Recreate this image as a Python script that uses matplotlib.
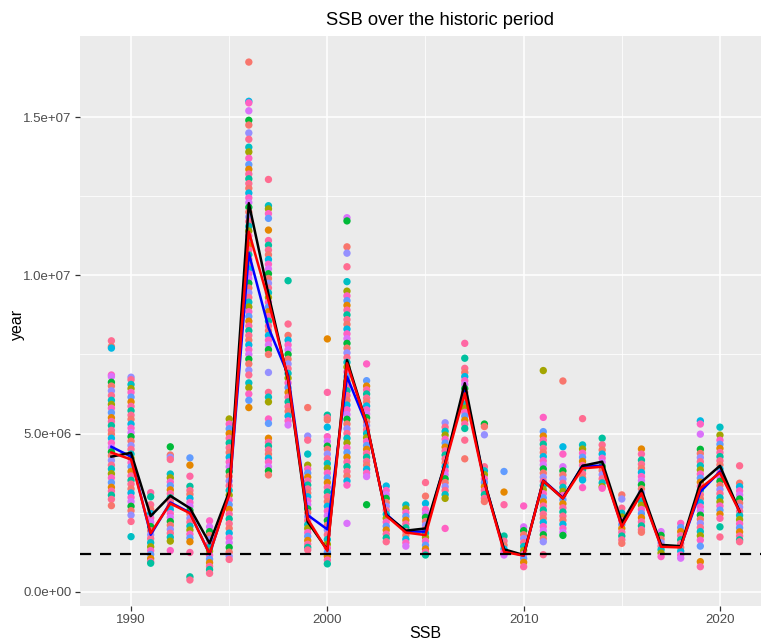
import numpy as np
import matplotlib.pyplot as plt
from matplotlib.ticker import FixedLocator, FixedFormatter

plt.rcParams['font.family'] = ['Liberation Sans', 'DejaVu Sans']

years = list(range(1989, 2022))

# SSB per iteration for each year (millions)
ssb_1989 = [7.93, 7.75, 7.7, 6.85, 6.8, 6.62, 6.5, 6.35, 6.2, 6.05, 5.92, 5.8, 5.66, 5.5, 5.38, 5.25, 5.1, 4.98,
            4.85, 4.7, 4.56, 4.42, 4.3, 4.15, 4.0, 3.88, 3.73, 3.6, 3.45, 3.3, 3.18, 3.05, 2.92, 2.72]
ssb_1990 = [6.78, 6.7, 6.55, 6.42, 6.3, 6.15, 6.0, 5.86, 5.72, 5.58, 5.45, 5.3, 5.17, 5.03, 4.9, 4.76, 4.62, 4.5,
            4.35, 4.22, 4.08, 3.95, 3.8, 3.66, 3.52, 3.4, 3.25, 3.12, 2.98, 2.85, 2.7, 2.56, 2.42, 2.22, 1.74]
ssb_1991 = [3.13, 3.0, 2.75, 2.6, 2.47, 2.33, 2.2, 2.06, 1.93, 1.8, 1.68, 1.55, 1.42, 1.3, 1.18, 1.05, 0.95, 0.9]
ssb_1992 = [4.58, 4.32, 4.25, 4.18, 3.72, 3.6, 3.47, 3.35, 3.22, 3.1, 2.97, 2.85, 2.72, 2.6, 2.47, 2.35, 2.22,
            2.1, 1.97, 1.85, 1.72, 1.6, 1.3]
ssb_1993 = [4.23, 4.0, 3.65, 3.33, 3.2, 3.08, 2.95, 2.82, 2.7, 2.57, 2.45, 2.32, 2.2, 2.07, 1.95, 1.82, 1.7,
            1.58, 1.24, 0.47, 0.37]
ssb_1994 = [2.24, 2.05, 1.9, 1.78, 1.65, 1.52, 1.4, 1.28, 1.15, 1.03, 0.92, 0.8, 0.7, 0.58]
ssb_1995 = [5.46, 5.3, 5.15, 5.0, 4.85, 4.7, 4.55, 4.4, 4.25, 4.1, 3.95, 3.8, 3.65, 3.5, 3.35, 3.2, 3.05, 2.9,
            2.75, 2.6, 2.45, 2.3, 2.15, 2.0, 1.85, 1.7, 1.55, 1.4, 1.25, 1.12, 1.02]
ssb_1996 = [16.74, 15.5, 15.45, 15.2, 14.9, 14.75, 14.5, 14.3, 14.05, 13.9, 13.7, 13.5, 13.35, 13.2, 13.05, 12.9,
            12.75, 12.6, 12.45, 12.3, 12.15, 12.0, 11.85, 11.7, 11.55, 11.4, 11.25, 11.1, 10.95, 10.8, 10.65,
            10.5, 10.35, 10.2, 10.05, 9.9, 9.75, 9.6, 9.45, 9.3, 9.15, 9.0, 8.85, 8.7, 8.55, 8.4, 8.25, 8.1,
            7.95, 7.8, 7.65, 7.5, 7.35, 7.2, 7.0, 6.85, 6.6, 6.45, 6.25, 6.05, 5.82]
ssb_1997 = [13.03, 12.2, 12.1, 11.95, 11.8, 11.43, 11.1, 10.95, 10.8, 10.65, 10.5, 10.35, 10.2, 10.05, 9.9,
            9.75, 9.6, 9.45, 9.3, 9.15, 9.0, 8.85, 8.7, 8.55, 8.4, 8.25, 8.1, 7.95, 7.8, 7.65, 7.5, 6.93, 6.3,
            6.15, 6.0, 5.46, 5.32, 4.85, 4.72, 4.6, 4.48, 4.35, 4.22, 4.1, 3.95, 3.82, 3.69]
ssb_1998 = [9.83, 8.46, 8.1, 7.95, 7.8, 7.65, 7.5, 7.35, 7.2, 7.05, 6.9, 6.75, 6.6, 6.45, 6.3, 6.15, 6.0, 5.85,
            5.7, 5.55, 5.4, 5.27]
ssb_1999 = [5.82, 4.92, 4.79, 4.35, 4.0, 3.88, 3.75, 3.62, 3.5, 3.37, 3.25, 3.12, 3.0, 2.87, 2.75, 2.62, 2.5,
            2.37, 2.25, 2.12, 2.0, 1.87, 1.75, 1.62, 1.5, 1.4, 1.32]
ssb_2000 = [7.99, 6.3, 5.58, 5.5, 5.43, 5.2, 4.9, 4.75, 4.6, 4.5, 4.35, 4.2, 4.05, 3.9, 3.75, 3.6, 3.45, 3.3,
            3.15, 3.0, 2.85, 2.7, 2.55, 2.4, 2.25, 2.1, 1.95, 1.8, 1.65, 1.5, 1.38, 1.25, 1.12, 1.0, 0.88]
ssb_2001 = [11.82, 11.72, 10.9, 10.7, 10.27, 9.8, 9.5, 9.35, 9.2, 9.05, 8.9, 8.75, 8.6, 8.45, 8.3, 8.15, 8.0,
            7.85, 7.7, 7.55, 7.4, 7.25, 7.1, 6.95, 6.8, 6.65, 6.5, 6.35, 6.2, 6.05, 5.9, 5.75, 5.6, 5.45, 5.3,
            5.15, 5.0, 4.85, 4.7, 4.55, 4.4, 4.25, 4.1, 3.95, 3.8, 3.65, 3.5, 3.37, 2.16]
ssb_2002 = [7.2, 6.67, 6.5, 6.38, 6.25, 6.12, 6.0, 5.87, 5.75, 5.62, 5.5, 5.37, 5.25, 5.12, 5.0, 4.87, 4.75,
            4.62, 4.5, 4.37, 4.25, 4.12, 4.0, 3.87, 3.75, 3.64, 2.75]
ssb_2003 = [3.34, 3.2, 3.07, 2.95, 2.82, 2.7, 2.57, 2.45, 2.32, 2.2, 2.07, 1.95, 1.82, 1.7, 1.58]
ssb_2004 = [2.74, 2.62, 2.5, 2.38, 2.26, 2.14, 2.02, 1.9, 1.78, 1.66, 1.55, 1.44]
ssb_2005 = [3.45, 3.02, 2.79, 2.6, 2.47, 2.35, 2.22, 2.1, 1.97, 1.85, 1.72, 1.6, 1.47, 1.35, 1.25, 1.16]
ssb_2006 = [5.34, 5.2, 5.07, 4.95, 4.82, 4.7, 4.57, 4.45, 4.32, 4.2, 4.07, 3.95, 3.82, 3.7, 3.57, 3.45, 3.32,
            3.2, 3.07, 2.95, 2.0]
ssb_2007 = [7.85, 7.38, 7.06, 6.93, 6.8, 6.67, 6.55, 6.42, 6.3, 6.17, 6.05, 5.92, 5.8, 5.67, 5.55, 5.42, 5.3,
            5.16, 4.79, 4.2]
ssb_2008 = [5.3, 5.22, 4.96, 3.95, 3.82, 3.7, 3.57, 3.45, 3.32, 3.2, 3.07, 2.95, 2.85]
ssb_2009 = [3.8, 3.15, 2.75, 1.76, 1.6, 1.47, 1.35, 1.25, 1.16]
ssb_2010 = [2.71, 2.05, 1.93, 1.8, 1.68, 1.55, 1.43, 1.3, 1.18, 1.05, 0.93, 0.79]
ssb_2011 = [6.99, 5.51, 5.06, 4.92, 4.79, 4.66, 4.53, 4.4, 4.27, 4.14, 4.01, 3.88, 3.75, 3.62, 3.49, 3.36,
            3.23, 3.1, 2.97, 2.84, 2.71, 2.58, 2.45, 2.32, 2.19, 2.06, 1.93, 1.8, 1.68, 1.58, 1.17]
ssb_2012 = [6.66, 4.58, 4.35, 3.95, 3.82, 3.69, 3.56, 3.43, 3.3, 3.17, 3.04, 2.91, 2.78, 2.65, 2.52, 2.39,
            2.26, 2.13, 2.0, 1.88, 1.78]
ssb_2013 = [5.47, 4.64, 4.51, 4.38, 4.25, 4.12, 3.99, 3.86, 3.73, 3.6, 3.53, 3.29]
ssb_2014 = [4.85, 4.64, 4.48, 4.35, 4.22, 4.09, 3.96, 3.83, 3.7, 3.57, 3.44, 3.32, 3.27]
ssb_2015 = [3.06, 2.93, 2.64, 2.48, 2.36, 2.24, 2.12, 2.0, 1.88, 1.76, 1.64, 1.53]
ssb_2016 = [4.51, 4.35, 4.16, 4.03, 3.9, 3.77, 3.64, 3.51, 3.38, 3.25, 3.12, 2.99, 2.86, 2.73, 2.6, 2.47,
            2.34, 2.21, 2.08, 1.96, 1.88]
ssb_2017 = [1.9, 1.78, 1.66, 1.55, 1.44, 1.33, 1.22, 1.11]
ssb_2018 = [2.16, 2.03, 1.9, 1.77, 1.64, 1.52, 1.4, 1.28, 1.16, 1.06]
ssb_2019 = [5.4, 5.3, 4.98, 4.5, 4.37, 4.24, 4.11, 3.98, 3.85, 3.72, 3.59, 3.46, 3.33, 3.2, 3.07, 2.94, 2.81,
            2.68, 2.55, 2.42, 2.29, 2.16, 2.03, 1.9, 1.77, 1.63, 1.44, 0.95, 0.79]
ssb_2020 = [5.2, 4.95, 4.79, 4.66, 4.53, 4.4, 4.27, 4.14, 4.01, 3.88, 3.75, 3.62, 3.49, 3.36, 3.23, 3.1, 2.97,
            2.84, 2.71, 2.58, 2.45, 2.32, 2.05, 1.73]
ssb_2021 = [3.98, 3.43, 3.32, 3.19, 3.06, 2.93, 2.8, 2.67, 2.54, 2.41, 2.28, 2.15, 2.02, 1.89, 1.76, 1.64, 1.58]

ssb_by_year = [ssb_1989, ssb_1990, ssb_1991, ssb_1992, ssb_1993, ssb_1994, ssb_1995, ssb_1996, ssb_1997,
               ssb_1998, ssb_1999, ssb_2000, ssb_2001, ssb_2002, ssb_2003, ssb_2004, ssb_2005, ssb_2006,
               ssb_2007, ssb_2008, ssb_2009, ssb_2010, ssb_2011, ssb_2012, ssb_2013, ssb_2014, ssb_2015,
               ssb_2016, ssb_2017, ssb_2018, ssb_2019, ssb_2020, ssb_2021]

# summary lines (millions)
ssb_black = [4.27, 4.39, 2.39, 3.03, 2.64, 1.53, 3.16, 12.28, 9.4, 6.69, 2.21, 1.32, 7.32, 5.32, 2.42, 1.93,
             2.0, 4.06, 6.59, 3.48, 1.34, 1.16, 3.5, 2.95, 3.98, 4.11, 2.18, 3.24, 1.48, 1.44, 3.44, 3.98, 2.53]
ssb_red = [4.4, 4.18, 1.85, 2.79, 2.48, 1.19, 3.06, 11.38, 9.2, 6.74, 2.3, 1.29, 7.22, 5.32, 2.4, 1.87,
           1.79, 4.02, 6.27, 3.45, 1.26, 1.14, 3.5, 2.95, 3.9, 3.95, 2.05, 3.11, 1.42, 1.40, 3.27, 3.76, 2.53]
ssb_blue = [4.58, 4.27, 1.8, 2.82, 2.5, 1.19, 3.1, 10.7, 8.35, 6.85, 2.42, 1.97, 6.8, 5.28, 2.45, 1.9,
            1.9, 4.06, 6.43, 3.48, 1.3, 1.14, 3.52, 2.97, 3.98, 3.98, 2.08, 3.14, 1.44, 1.42, 3.16, 3.8, 2.55]
blim = 1.2  # reference level (millions)

y_ticks = [0, 5e6, 1e7, 1.5e7]
y_tick_labels = ['0.0e+00', '5.0e+06', '1.0e+07', '1.5e+07']
x_ticks = [1990, 2000, 2010, 2020]

iter_colors = ['#FF6C91', '#F8766D', '#00B9E3', '#FF61C3', '#DB72FB', '#00BA38', '#F8766D', '#9590FF',
               '#FF6C91', '#00BFC4', '#A3A500', '#FF61C3', '#619CFF', '#E58700', '#FF67A4', '#00C19F']

W, H = 761, 644
fig = plt.figure(figsize=(W / 100, H / 100), dpi=100)
ax = fig.add_axes([80 / W, (H - 605.7) / H, (771 - 80) / W, (605.7 - 36) / H])
ax.set_facecolor('#EBEBEB')
for s in ax.spines.values():
    s.set_visible(False)

# iteration points
px, py, pc = [], [], []
for i, (yr, vals) in enumerate(zip(years, ssb_by_year)):
    for k, v in enumerate(vals):
        px.append(yr)
        py.append(v * 1e6)
        pc.append(iter_colors[(k + 7 * i) % len(iter_colors)])
ax.scatter(px, py, s=28, c=pc, linewidths=0, zorder=2)

yrs = np.array(years)
ax.plot(yrs, np.array(ssb_blue) * 1e6, color='#0000FF', lw=1.8, zorder=3)
ax.plot(yrs, np.array(ssb_black) * 1e6, color='black', lw=1.8, zorder=4)
ax.plot(yrs, np.array(ssb_red) * 1e6, color='#FF0000', lw=1.8, zorder=5)
ax.axhline(blim * 1e6, color='black', lw=1.6, ls=(0, (5, 4)), zorder=6)

ax.set_xlim(1987.4, 2022.6)
ax.set_ylim(-4.42e5, 1.7564e7)

ax.xaxis.set_major_locator(FixedLocator(x_ticks))
ax.xaxis.set_minor_locator(FixedLocator([1995, 2005, 2015]))
ax.yaxis.set_major_locator(FixedLocator(y_ticks))
ax.yaxis.set_major_formatter(FixedFormatter(y_tick_labels))
ax.yaxis.set_minor_locator(FixedLocator([2.5e6, 7.5e6, 1.25e7]))
ax.grid(which='major', color='white', lw=1.1, zorder=0)
ax.grid(which='minor', color='white', lw=0.55, zorder=0)
ax.set_axisbelow(True)
ax.tick_params(which='major', length=3.5, width=0.9, color='#333333',
               labelsize=9.5, labelcolor='#4D4D4D', pad=2.5)
ax.tick_params(which='minor', length=0)

fig.text(440 / W, (H - 25) / H, 'SSB over the historic period', fontsize=13.2,
         ha='center', va='baseline')
fig.text(425 / W, (H - 633) / H, 'SSB', fontsize=11.5, ha='center', va='center')
fig.text(17 / W, 320 / H, 'year', fontsize=11.5, ha='center', va='center', rotation=90)

fig.savefig('out.png', dpi=100)
